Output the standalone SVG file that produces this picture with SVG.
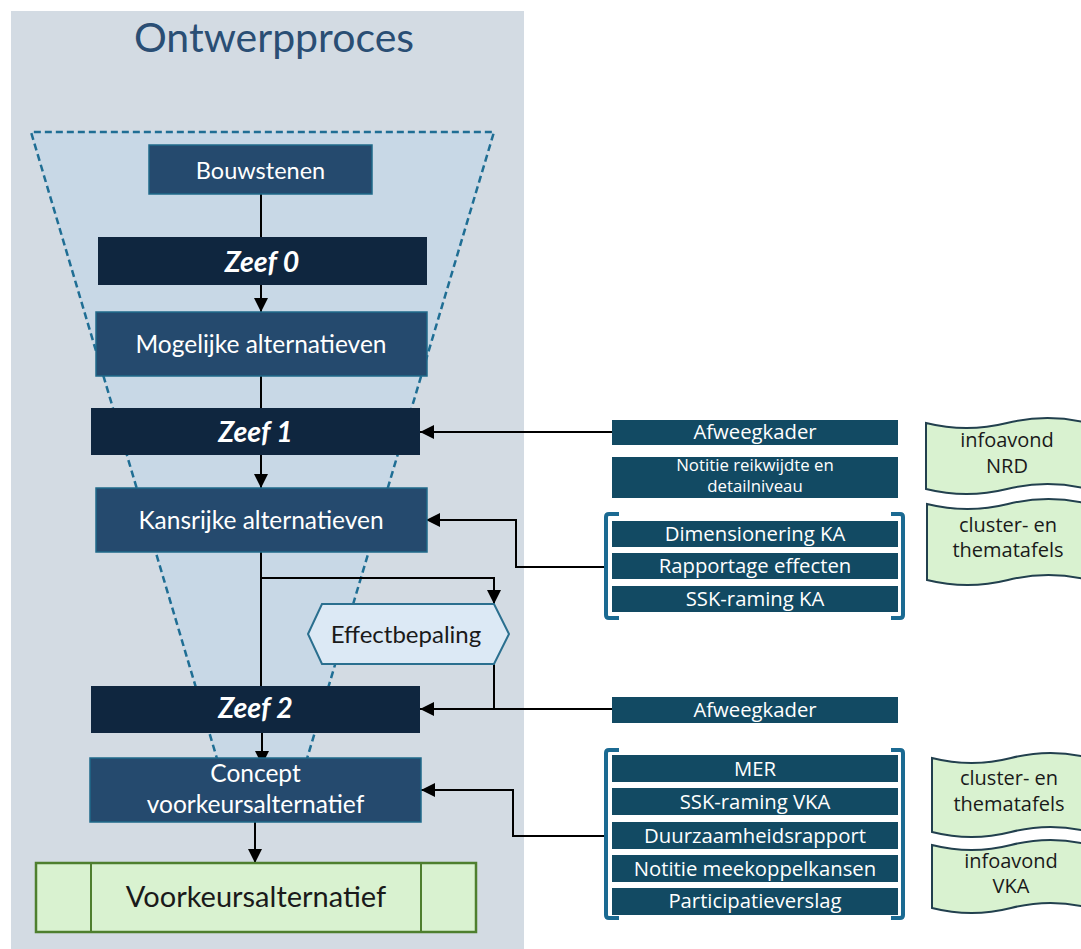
<svg xmlns="http://www.w3.org/2000/svg" width="1081" height="949" viewBox="0 0 1081 949">
<style>
.lt{font-family:Lato,"Liberation Sans",sans-serif;text-anchor:middle}
.wt{fill:#ffffff}
.zf{font-weight:bold;font-style:italic;font-size:28.5px;fill:#ffffff}
.bx{fill:#254a6e;stroke:#1f6a8a;stroke-width:1.5}
.zb{fill:#0f263f}
.rb{fill:#124a63}
.rt{font-family:"Open Sans","Noto Sans","Liberation Sans",sans-serif;font-size:20.3px;fill:#ffffff;text-anchor:middle}
.rs{font-size:16.8px}
.tp{fill:#d9f2d0;stroke:#22404e;stroke-width:2}
.tt{font-family:"Open Sans","Noto Sans","Liberation Sans",sans-serif;font-size:20px;fill:#1a1a1a;text-anchor:middle}
.cn{fill:none;stroke:#000000;stroke-width:2}
.br{fill:none;stroke:#1b6a92;stroke-width:4}
</style>
<defs>
<marker id="ah" markerUnits="userSpaceOnUse" markerWidth="14" markerHeight="14" viewBox="0 0 12 12" refX="12" refY="6" orient="auto">
<path d="M0,0 L12,6 L0,12 Z" fill="#000000"/>
</marker>
</defs>
<g id="background">
<rect x="11" y="11" width="513" height="938" fill="#d3dbe3"/>
<polygon points="31,132 494,132 306,762 218,762" fill="#c8d8e6"/>
<polyline points="218,762 31,132 494,132 306,762" fill="none" stroke="#1f6e94" stroke-width="2.5" stroke-dasharray="7 4"/>
<text class="lt" x="274" y="52" font-size="41" fill="#2a4e74">Ontwerpproces</text>
</g>
<g id="connectors">
<line class="cn" x1="261" y1="194" x2="261" y2="237"/>
<line class="cn" x1="261" y1="285" x2="261" y2="312" marker-end="url(#ah)"/>
<line class="cn" x1="261" y1="376" x2="261" y2="408"/>
<line class="cn" x1="261" y1="455" x2="261" y2="488" marker-end="url(#ah)"/>
<line class="cn" x1="261" y1="552" x2="261" y2="686"/>
<polyline class="cn" points="261,578 494,578 494,604" marker-end="url(#ah)"/>
<line class="cn" x1="494" y1="664" x2="494" y2="709"/>
<line class="cn" x1="262" y1="733" x2="262" y2="765" marker-end="url(#ah)"/>
<line class="cn" x1="255" y1="822" x2="255" y2="863" marker-end="url(#ah)"/>
<line class="cn" x1="612" y1="432" x2="420" y2="432" marker-end="url(#ah)"/>
<polyline class="cn" points="606,567 516,567 516,520 426,520" marker-end="url(#ah)"/>
<line class="cn" x1="612" y1="709" x2="420" y2="709" marker-end="url(#ah)"/>
<polyline class="cn" points="606,836 513,836 513,790 421,790" marker-end="url(#ah)"/>
</g>
<g id="bouwstenen">
<rect class="bx" x="149" y="145" width="223" height="49"/>
<text class="lt wt" x="260.5" y="179" font-size="23.5">Bouwstenen</text>
</g>
<g id="zeef0">
<rect class="zb" x="98" y="237" width="329" height="48"/>
<text class="lt zf" x="262" y="272">Zeef 0</text>
</g>
<g id="mogelijke">
<rect class="bx" x="96" y="312" width="331" height="64"/>
<text class="lt wt" x="261" y="353" font-size="24.5">Mogelijke alternatieven</text>
</g>
<g id="zeef1">
<rect class="zb" x="91" y="408" width="329" height="47"/>
<text class="lt zf" x="255.5" y="442">Zeef 1</text>
</g>
<g id="kansrijke">
<rect class="bx" x="96" y="488" width="331" height="64"/>
<text class="lt wt" x="261" y="529" font-size="24.5">Kansrijke alternatieven</text>
</g>
<g id="effectbepaling">
<polygon points="308,634 322,604 494,604 509,634 494,664 322,664" fill="#dce9f5" stroke="#2a6f8f" stroke-width="2"/>
<text class="lt" x="406" y="643" font-size="24" fill="#1a1a1a">Effectbepaling</text>
</g>
<g id="zeef2">
<rect class="zb" x="91" y="686" width="329" height="47"/>
<text class="lt zf" x="255.5" y="718">Zeef 2</text>
</g>
<g id="concept">
<rect class="bx" x="90" y="758" width="331" height="64"/>
<text class="lt wt" x="255.5" y="782" font-size="24.5">Concept</text>
<text class="lt wt" x="255.5" y="813" font-size="24.5">voorkeursalternatief</text>
</g>
<g id="voorkeursalternatief">
<rect x="36" y="863" width="440" height="69" fill="#d9f2d0" stroke="#4e7f2e" stroke-width="2.5"/>
<line x1="91" y1="863" x2="91" y2="932" stroke="#4e7f2e" stroke-width="2"/>
<line x1="421" y1="863" x2="421" y2="932" stroke="#4e7f2e" stroke-width="2"/>
<text class="lt" x="256" y="907" font-size="29" fill="#1a1a1a">Voorkeursalternatief</text>
</g>
<g id="afweegkader1">
<rect class="rb" x="612" y="420" width="286" height="25"/>
<text class="rt" x="755" y="439">Afweegkader</text>
</g>
<g id="notitie-nrd">
<rect class="rb" x="612" y="457" width="286" height="41"/>
<text class="rt rs" x="755" y="471">Notitie reikwijdte en</text>
<text class="rt rs" x="755" y="492">detailniveau</text>
</g>
<g id="groep-ka">
<path class="br" d="M619,514 L609,514 Q606,514 606,517 L606,615 Q606,618 609,618 L619,618"/>
<path class="br" d="M891,514 L900,514 Q903,514 903,517 L903,615 Q903,618 900,618 L891,618"/>
<rect class="rb" x="612" y="521" width="286" height="26"/>
<text class="rt" x="755" y="541">Dimensionering KA</text>
<rect class="rb" x="612" y="553" width="286" height="26"/>
<text class="rt" x="755" y="573">Rapportage effecten</text>
<rect class="rb" x="612" y="586" width="286" height="26"/>
<text class="rt" x="755" y="606">SSK-raming KA</text>
</g>
<g id="afweegkader2">
<rect class="rb" x="612" y="697" width="286" height="26"/>
<text class="rt" x="755" y="717">Afweegkader</text>
</g>
<g id="groep-vka">
<path class="br" d="M619,750 L609,750 Q606,750 606,753 L606,915 Q606,918 609,918 L619,918"/>
<path class="br" d="M891,750 L900,750 Q903,750 903,753 L903,915 Q903,918 900,918 L891,918"/>
<rect class="rb" x="612" y="755" width="286" height="27"/>
<text class="rt" x="755" y="776">MER</text>
<rect class="rb" x="612" y="788" width="286" height="27"/>
<text class="rt" x="755" y="809">SSK-raming VKA</text>
<rect class="rb" x="612" y="822" width="286" height="27"/>
<text class="rt" x="755" y="843">Duurzaamheidsrapport</text>
<rect class="rb" x="612" y="855" width="286" height="27"/>
<text class="rt" x="755" y="876">Notitie meekoppelkansen</text>
<rect class="rb" x="612" y="888" width="286" height="27"/>
<text class="rt" x="755" y="908">Participatieverslag</text>
</g>
<g id="infoavond-nrd">
<path class="tp" d="M926,423 Q966.5,433 1007,423 Q1047.5,413 1088,423 L1088,489 Q1047.5,479 1007,489 Q966.5,499 926,489 Z"/>
<text class="tt" x="1007" y="447">infoavond</text>
<text class="tt" x="1007" y="473">NRD</text>
</g>
<g id="cluster-thema-1">
<path class="tp" d="M927,504 Q967.5,514 1008,504 Q1048.5,494 1089,504 L1089,580 Q1048.5,570 1008,580 Q967.5,590 927,580 Z"/>
<text class="tt" x="1008" y="532">cluster- en</text>
<text class="tt" x="1008" y="557">thematafels</text>
</g>
<g id="cluster-thema-2">
<path class="tp" d="M932,758 Q971.5,768 1011,758 Q1050.5,748 1090,758 L1090,832 Q1050.5,822 1011,832 Q971.5,842 932,832 Z"/>
<text class="tt" x="1009" y="785">cluster- en</text>
<text class="tt" x="1009" y="811">thematafels</text>
</g>
<g id="infoavond-vka">
<path class="tp" d="M932,845 Q971.5,855 1011,845 Q1050.5,835 1090,845 L1090,908 Q1050.5,898 1011,908 Q971.5,918 932,908 Z"/>
<text class="tt" x="1011" y="868">infoavond</text>
<text class="tt" x="1011" y="893">VKA</text>
</g>
</svg>
